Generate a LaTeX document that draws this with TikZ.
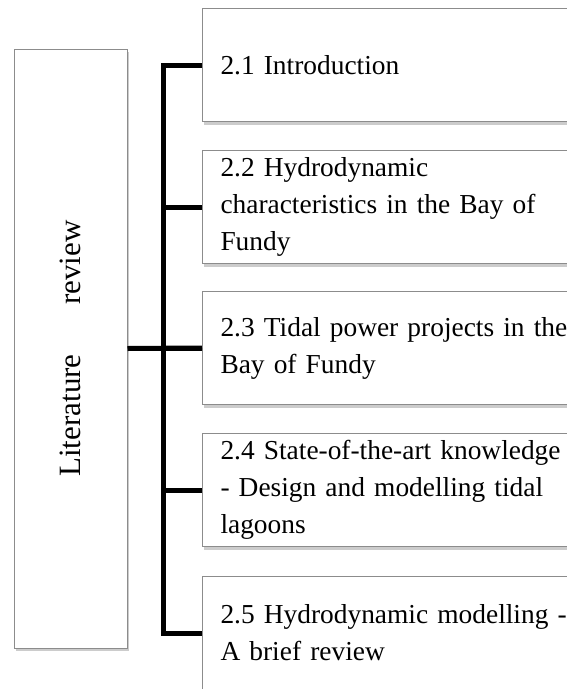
\documentclass[tikz,border=0pt]{standalone}
\usepackage{fontspec}
\setmainfont{Liberation Serif}
\usetikzlibrary{shadows}
\protected\def\secfont{\fontsize{27.4}{37}\selectfont\spaceskip=0.2em\relax}

\begin{document}
\begin{tikzpicture}[
  x=1pt, y=-1pt,
  topic/.style={rectangle, draw=gray!90, line width=1pt, fill=white, minimum width=113pt, minimum height=599pt, font=\fontsize{31}{37}\selectfont, drop shadow={shadow xshift=1.5pt, shadow yshift=-3pt, opacity=0.4}},
  section/.style={rectangle, draw=gray!90, line width=1pt, fill=white, anchor=north west, minimum width=420pt, minimum height=113pt, text width=384pt, inner xsep=18pt, align=left, font=\secfont, drop shadow={shadow xshift=1.5pt, shadow yshift=-3pt, opacity=0.4}},
  branch/.style={line width=5pt}
]
\useasboundingbox (0,0) rectangle (567,689);
\clip (0,0) rectangle (567,689);

% Main topic
\node[topic] (lit) at (70.5,348.5) {\rotatebox{90}{Literature\hspace{1.6em}review}};

% Sections
\node[section] (sec1) at (202,8) {2.1 Introduction};
\node[section] (sec2) at (202,150) {2.2 Hydrodynamic\\characteristics in the Bay of\\Fundy};
\node[section] (sec3) at (202,291) {2.3 Tidal power projects in the\\Bay of Fundy};
\node[section] (sec4) at (202,433) {2.4 State-of-the-art knowledge\\- Design and modelling tidal\\lagoons};
\node[section] (sec5) at (202,576) {2.5 Hydrodynamic modelling -\\A brief review};

% Connectors
\draw[branch] (sec1.west) -- ++(-39,0) |- (sec5.west);
\foreach \i in {2,3,4}
  \draw[branch] (sec\i.west) -- ++(-39,0);
\draw[branch] (lit.east) -- (sec3.west);

\end{tikzpicture}
\end{document}
